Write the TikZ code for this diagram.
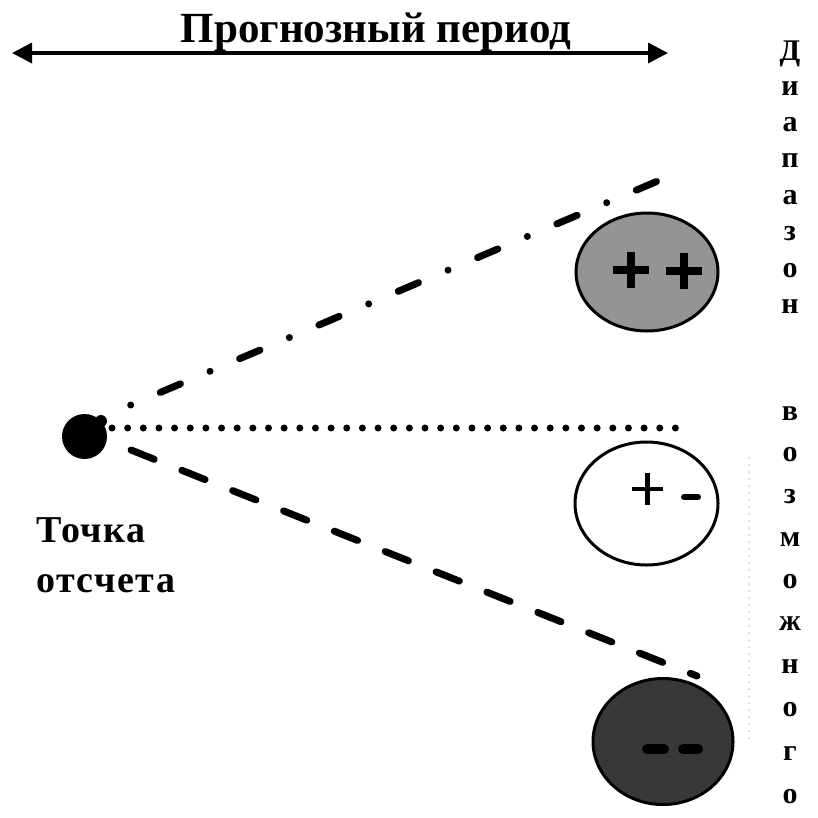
\documentclass[tikz,border=0pt]{standalone}
\usepackage{fontspec}
\setmainfont{Liberation Serif}
\usetikzlibrary{arrows.meta,shapes.geometric}
\begin{document}
\begin{tikzpicture}[x=1pt,y=-1pt,
  oval/.style={ellipse,draw=black,line width=3pt,inner sep=0pt},
  thickline/.style={line width=7pt,line cap=round},
  vletter/.style={anchor=base,inner sep=0pt,font=\fontsize{30}{30}\selectfont\bfseries},
  signbar/.style={line cap=butt},
  labeltext/.style={anchor=base west,inner sep=0pt,font=\fontsize{38}{38}\selectfont\bfseries\addfontfeature{LetterSpace=4}},
]
\useasboundingbox (0,0) rectangle (818,817);

% title and double arrow
\node[anchor=base,inner sep=0pt,font=\fontsize{43}{43}\selectfont\bfseries] (title) at (376,42) {Прогнозный период};
\coordinate (arL) at (12,53);
\coordinate (arR) at (668,53);
\draw[line width=3.5pt,{Triangle[length=20pt,width=20pt]}-{Triangle[length=20pt,width=20pt]}] (arL) -- (arR);

% reference point
\node[circle,fill=black,minimum size=45pt,inner sep=0pt] (ref) at (84.5,436.5) {};
\fill[black] (101,421) circle (6);

% ellipses
\node[oval,fill=black!42,minimum width=142pt,minimum height=118pt] (pp) at (647,272) {};
\node[oval,fill=white,minimum width=143pt,minimum height=123pt] (pm) at (646.5,503.5) {};
\node[oval,fill=black!78,minimum width=140pt,minimum height=126pt] (mm) at (663,741.5) {};

% signs
\draw[line width=8pt,signbar] (613,270) -- (649,270);
\draw[line width=8pt,signbar] (631,252) -- (631,288);
\draw[line width=8pt,signbar] (666,271) -- (702,271);
\draw[line width=8pt,signbar] (684,253) -- (684,289);
\draw[line width=4.5pt,signbar] (632,489) -- (663,489);
\draw[line width=4.5pt,signbar] (647.5,473) -- (647.5,505);
\draw[line width=6pt,line cap=round] (684,497) -- (698,497);
\draw[line width=10pt,line cap=round,black] (647,749) -- (664,749);
\draw[line width=10pt,line cap=round,black] (683,749) -- (698,749);

% scenario lines
\coordinate (ddS) at (130.7,405);
\coordinate (ddE) at (686,169);
\draw[thickline,dash pattern=on 0pt off 32.1pt on 22pt off 32.1pt] (ddS) -- (ddE);
\coordinate (dtS) at (112,428);
\coordinate (dtE) at (691,428);
\draw[thickline,dash pattern=on 0pt off 15.65pt] (dtS) -- (dtE);
\coordinate (dsS) at (131,450);
\coordinate (dsE) at (697,676);
\draw[thickline,dash pattern=on 25pt off 29.75pt] (dsS) -- (dsE);

% faint range line
\coordinate (rgT) at (749,458);
\coordinate (rgB) at (749,740);
\draw[black!35,line width=1.5pt,line cap=round,dash pattern=on 0pt off 7pt] (rgT) -- (rgB);

% left label
\node[labeltext] (lab1) at (36,542) {Точка};
\node[labeltext] (lab2) at (36,592) {отсчета};

% vertical text
\node[vletter] (v1) at (790,60) {Д};
\node[vletter] (v2) at (790,95) {и};
\node[vletter] (v3) at (790,131) {а};
\node[vletter] (v4) at (790,167) {п};
\node[vletter] (v5) at (790,204) {а};
\node[vletter] (v6) at (790,240) {з};
\node[vletter] (v7) at (790,277) {о};
\node[vletter] (v8) at (790,313) {н};
\node[vletter] (v9) at (790,420) {в};
\node[vletter] (v10) at (790,461) {о};
\node[vletter] (v11) at (790,503) {з};
\node[vletter] (v12) at (790,546) {м};
\node[vletter] (v13) at (790,588) {о};
\node[vletter] (v14) at (790,630) {ж};
\node[vletter] (v15) at (790,673) {н};
\node[vletter] (v16) at (790,716) {о};
\node[vletter] (v17) at (790,760) {г};
\node[vletter] (v18) at (790,803) {о};
\end{tikzpicture}
\end{document}
